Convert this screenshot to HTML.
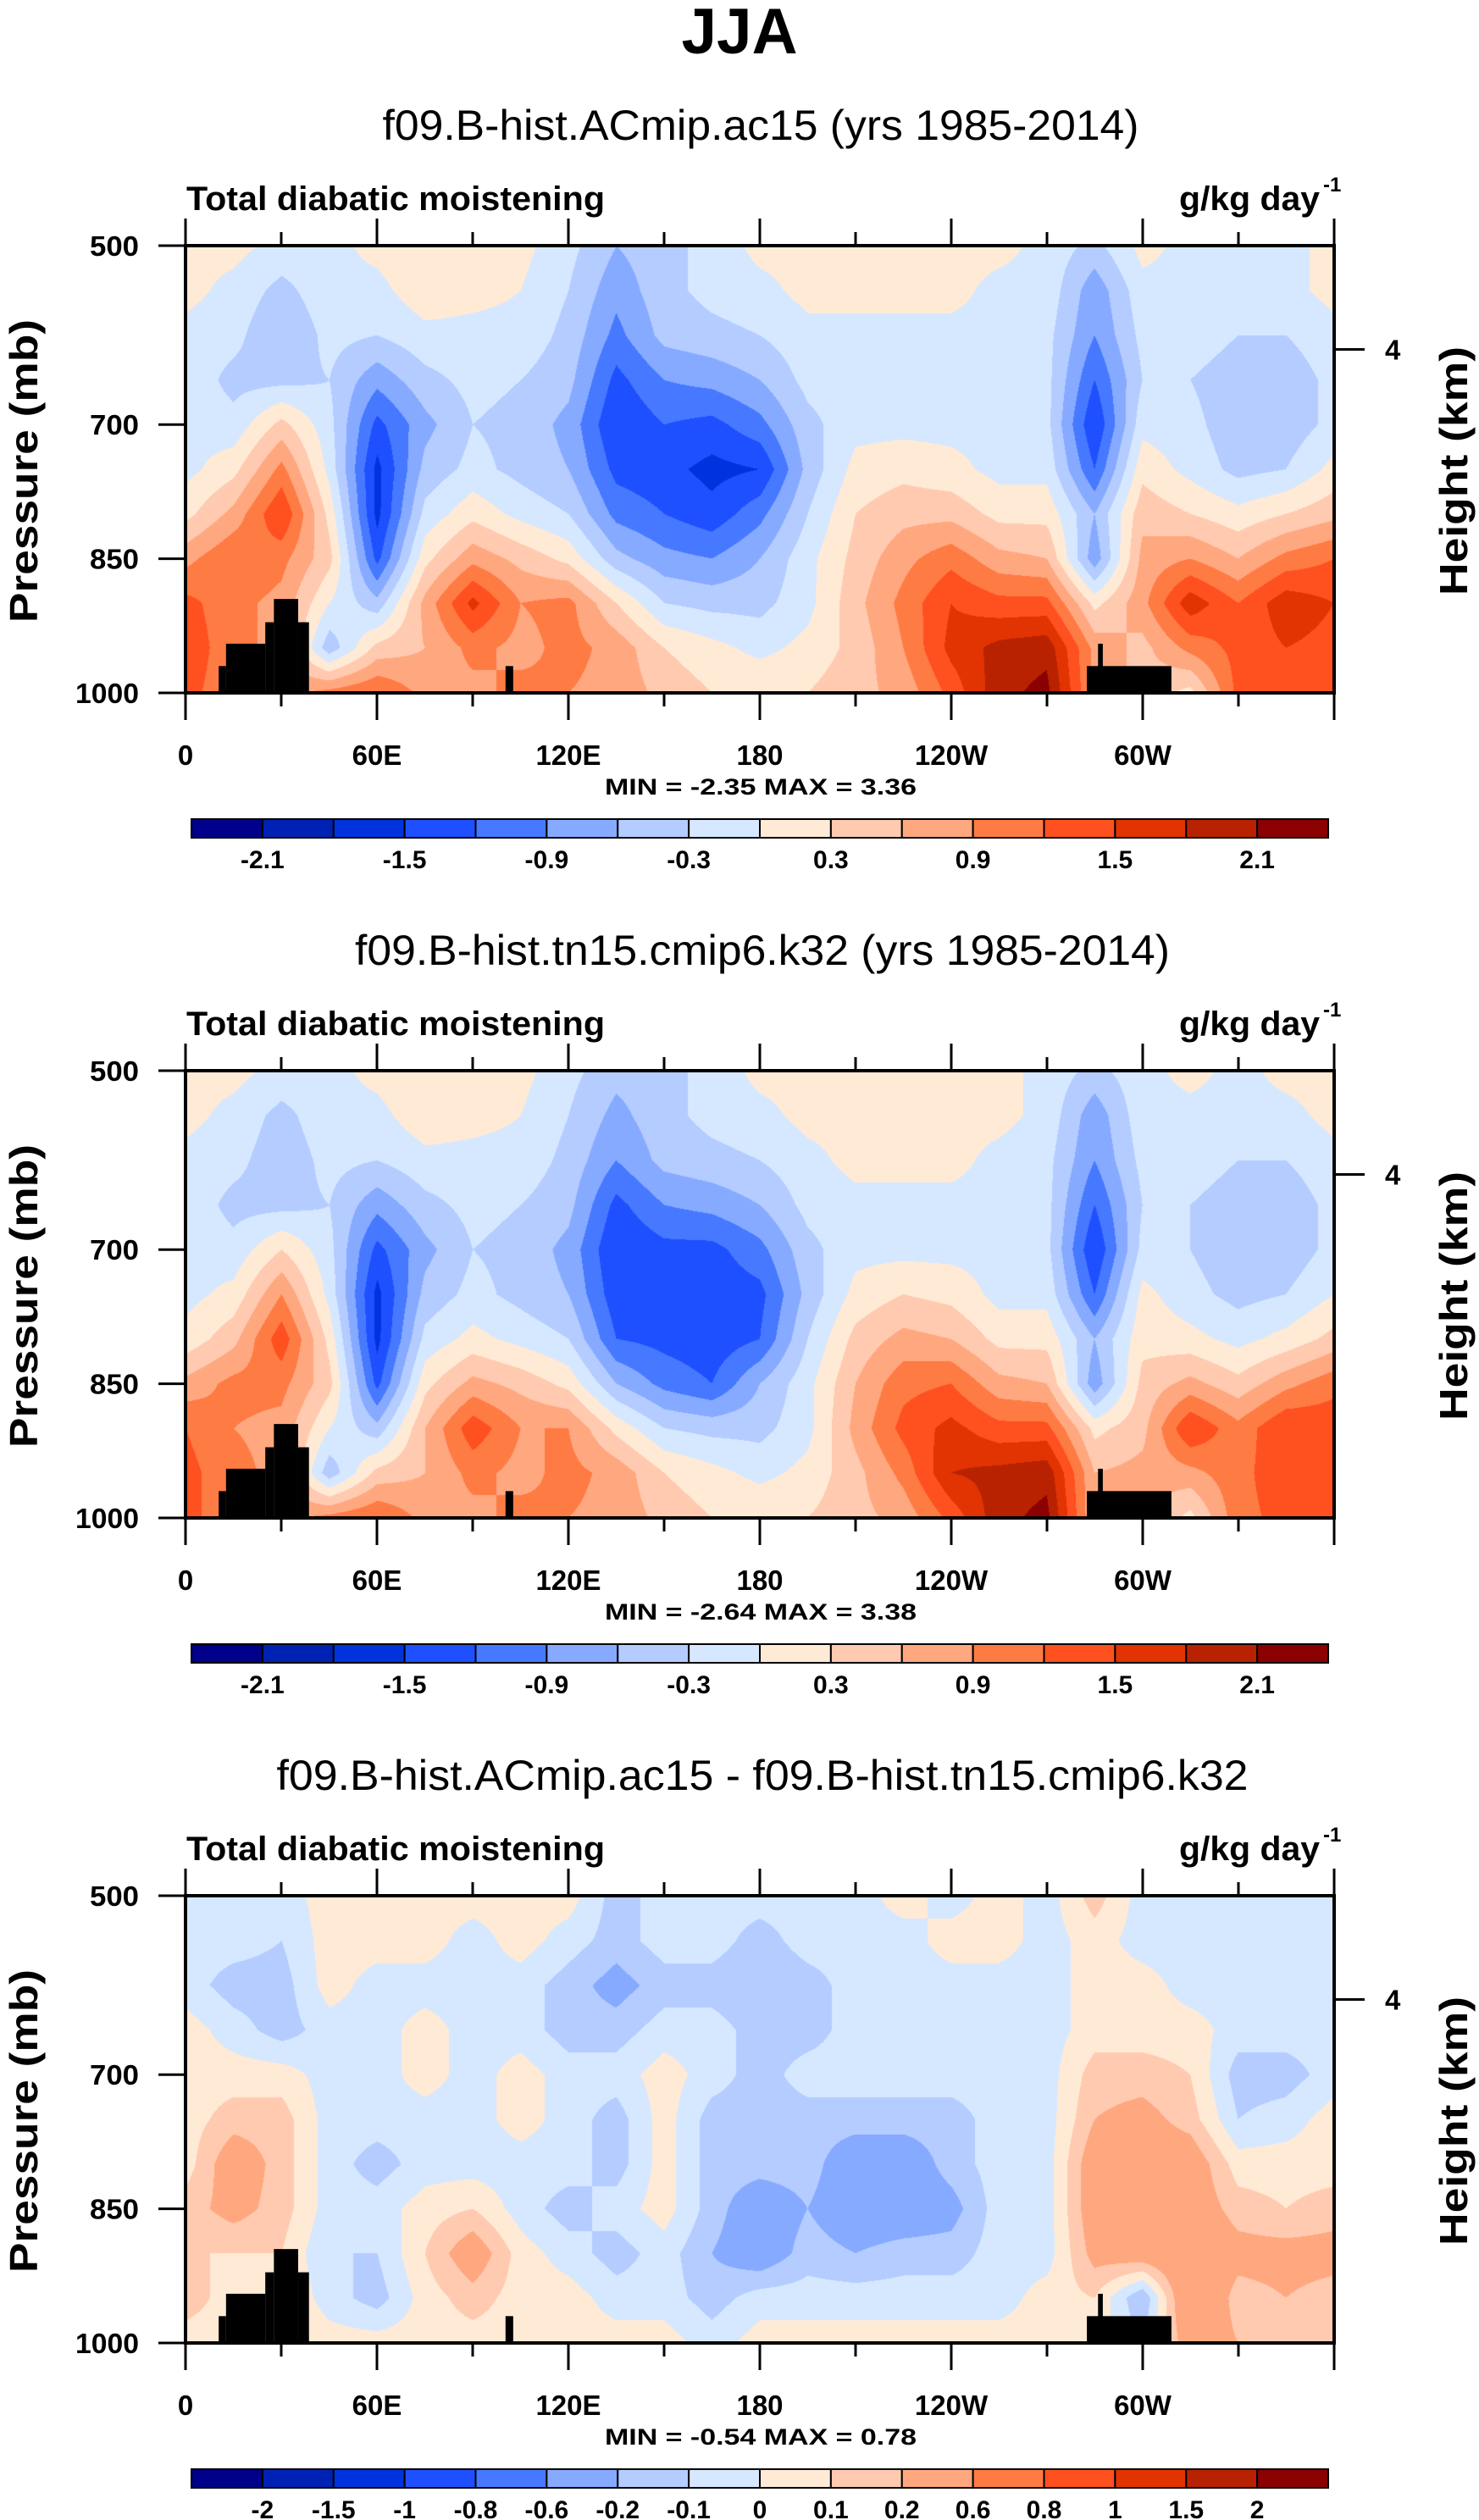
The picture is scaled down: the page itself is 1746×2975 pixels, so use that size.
<!DOCTYPE html>
<html><head><meta charset="utf-8">
<style>
html,body{margin:0;padding:0;background:#fff;}
#wrap{position:relative;width:1746px;height:2975px;overflow:hidden;}
canvas{position:absolute;}
svg{position:absolute;left:0;top:0;}
text{font-family:"Liberation Sans",sans-serif;}
</style></head>
<body>
<div id="wrap">
<canvas id="c0" width="1356" height="528" style="left:219px;top:290px"></canvas>
<canvas id="c1" width="1356" height="528" style="left:219px;top:1264px"></canvas>
<canvas id="c2" width="1356" height="528" style="left:219px;top:2238px"></canvas>
<svg id="ov" width="1746" height="2975">
<text x="873" y="63" font-size="76" font-weight="bold" text-anchor="middle" textLength="137" lengthAdjust="spacingAndGlyphs">JJA</text>
</svg>
</div>
<script>
// ---- data ----
const lons = [0,15,30,45,60,75,90,105,120,135,150,165,180,195,210,225,240,255,270,285,300,315,330,345,360];
const levelsP = [500,550,600,650,700,750,800,850,900,950,1000];
const field1 = [
[0.1,0.1,-0.1,-0.1,-0.1,-0.1,0.2,0.8,1.3,1.4,1.3],
[0.1,-0.1,-0.2,-0.4,-0.2,0.2,0.7,1.2,1.0,1.0,1.0],
[-0.1,-0.4,-0.6,-0.4,0.4,1.0,1.5,1.0,0.8,0.8,0.8],
[-0.1,-0.1,-0.2,-0.3,-0.2,-0.1,0.2,0.4,0.0,-0.5,1.0],
[0.1,-0.1,-0.3,-0.8,-1.3,-1.6,-1.6,-1.3,-0.5,0.4,1.2],
[0.3,0.2,-0.1,-0.4,-0.7,-0.5,-0.2,0.2,0.7,0.6,0.8],
[0.1,0.1,-0.1,-0.2,-0.3,-0.2,0.2,0.8,1.6,1.0,0.8],
[0.1,0.0,-0.1,-0.3,-0.4,-0.4,-0.1,0.5,0.9,0.8,1.0],
[-0.2,-0.3,-0.4,-0.5,-0.7,-0.6,-0.3,0.2,1.0,1.0,0.9],
[-0.6,-0.8,-1.0,-1.3,-1.5,-1.3,-1.0,-0.5,0.3,0.8,0.8],
[-0.4,-0.4,-0.5,-0.9,-1.2,-1.4,-1.2,-0.8,-0.3,0.3,0.5],
[-0.2,-0.2,-0.4,-0.8,-1.3,-1.6,-1.4,-0.9,-0.4,0.1,0.3],
[0.1,-0.1,-0.3,-0.6,-1.0,-1.5,-1.0,-0.6,-0.4,-0.1,0.3],
[0.1,0.1,-0.1,-0.2,-0.4,-0.5,-0.3,-0.1,-0.1,0.1,0.3],
[0.1,0.1,-0.1,-0.1,-0.1,0.1,0.3,0.4,0.5,0.4,0.5],
[0.1,0.1,-0.1,-0.1,-0.1,0.2,0.5,0.8,1.0,0.9,0.7],
[0.1,0.1,-0.1,-0.1,-0.1,0.1,0.5,1.1,1.5,1.6,1.3],
[0.1,-0.1,-0.1,-0.1,-0.1,-0.1,0.2,0.7,1.3,1.9,2.0],
[-0.1,-0.1,-0.2,-0.2,-0.2,-0.1,0.2,0.6,1.3,2.0,2.2],
[-0.4,-0.8,-0.9,-1.2,-1.5,-1.2,-0.6,-0.8,0.2,0.8,0.8],
[0.1,-0.1,-0.2,-0.3,-0.1,0.2,0.5,0.7,0.8,0.5,0.5],
[-0.1,-0.1,-0.1,-0.3,-0.2,-0.1,0.3,0.9,1.7,1.0,0.2],
[-0.1,-0.1,-0.3,-0.5,-0.5,-0.4,0.1,0.6,1.2,1.3,1.3],
[-0.1,-0.1,-0.3,-0.5,-0.5,-0.3,0.3,1.0,1.7,1.5,1.3],
[0.1,0.1,-0.1,-0.2,-0.2,0.1,0.5,1.2,1.5,1.4,1.3]];
const field2 = [
[0.1,0.1,-0.1,-0.1,-0.1,-0.1,0.1,0.7,1.2,1.3,1.3],
[0.1,-0.1,-0.2,-0.4,-0.2,0.1,0.5,1.0,0.9,1.0,1.0],
[-0.1,-0.4,-0.5,-0.4,0.3,0.9,1.4,1.0,0.8,0.8,0.8],
[-0.1,-0.1,-0.2,-0.3,-0.2,-0.1,0.2,0.4,0.0,-0.5,1.0],
[0.1,-0.1,-0.3,-0.8,-1.3,-1.6,-1.6,-1.3,-0.5,0.4,1.2],
[0.3,0.2,-0.1,-0.4,-0.7,-0.5,-0.2,0.2,0.6,0.6,0.8],
[0.1,0.1,-0.1,-0.2,-0.3,-0.2,0.1,0.7,1.4,1.0,0.8],
[0.1,0.0,-0.1,-0.3,-0.4,-0.4,-0.1,0.5,0.9,0.8,1.0],
[-0.2,-0.3,-0.4,-0.5,-0.7,-0.6,-0.3,0.2,0.9,1.0,0.9],
[-0.5,-0.7,-0.9,-1.3,-1.5,-1.4,-1.2,-0.6,0.2,0.8,0.8],
[-0.4,-0.4,-0.5,-0.9,-1.3,-1.4,-1.3,-1.0,-0.3,0.3,0.5],
[-0.2,-0.2,-0.4,-0.8,-1.3,-1.4,-1.4,-1.2,-0.4,0.1,0.3],
[0.1,-0.1,-0.3,-0.6,-1.0,-1.3,-1.2,-0.6,-0.4,-0.1,0.3],
[0.1,0.1,-0.1,-0.2,-0.4,-0.5,-0.3,-0.1,-0.1,0.1,0.3],
[0.1,0.1,0.1,-0.1,-0.1,0.1,0.4,0.6,0.7,0.5,0.5],
[0.1,0.1,0.1,-0.1,-0.1,0.3,0.7,1.1,1.3,1.0,0.7],
[0.1,0.1,0.1,-0.1,-0.1,0.2,0.6,1.2,1.6,1.8,1.3],
[0.1,0.1,-0.1,-0.1,-0.1,-0.1,0.2,0.7,1.3,1.9,2.0],
[-0.1,-0.1,-0.2,-0.2,-0.2,-0.1,0.2,0.6,1.3,2.0,2.2],
[-0.4,-0.8,-0.9,-1.2,-1.5,-1.2,-0.6,-0.8,0.2,0.6,0.6],
[-0.1,-0.1,-0.2,-0.3,-0.2,0.1,0.2,0.4,0.5,0.7,0.7],
[0.1,-0.1,-0.1,-0.3,-0.3,-0.2,0.1,0.7,1.5,0.8,0.2],
[-0.1,-0.1,-0.3,-0.5,-0.5,-0.4,-0.1,0.4,1.0,1.1,1.1],
[0.1,-0.1,-0.3,-0.5,-0.5,-0.3,0.1,0.8,1.5,1.4,1.3],
[0.1,0.1,-0.1,-0.2,-0.2,0.0,0.4,1.1,1.4,1.3,1.3]];
const field3 = [
[-0.05,-0.05,-0.05,0.05,0.05,0.05,0.05,0.15,0.1,0.15,0.05],
[-0.05,-0.05,-0.15,-0.05,0.05,0.15,0.3,0.25,0.1,0.05,0.05],
[-0.05,-0.1,-0.15,-0.15,0.05,0.15,0.15,0.15,0.1,0.1,0.1],
[0.05,0.05,0.05,-0.05,-0.05,-0.05,-0.05,-0.05,-0.1,-0.05,0.05],
[0.05,0.05,-0.05,-0.05,-0.05,-0.05,-0.15,-0.05,-0.1,-0.15,0.05],
[0.05,0.05,-0.05,0.05,0.05,-0.05,-0.05,0.05,0.1,0.05,0.05],
[0.05,-0.05,-0.05,-0.05,-0.05,-0.05,-0.05,0.1,0.3,0.15,0.05],
[0.05,0.05,-0.05,-0.05,0.05,0.05,-0.05,-0.05,0.05,0.05,0.05],
[0.05,-0.05,-0.15,-0.15,-0.05,-0.05,-0.05,-0.15,-0.05,0.05,0.05],
[-0.15,-0.15,-0.25,-0.15,-0.05,-0.15,-0.15,-0.05,-0.15,-0.05,0.05],
[-0.05,-0.05,-0.15,-0.05,0.05,0.05,0.05,0.05,-0.05,-0.05,0.05],
[-0.05,-0.05,-0.15,-0.05,-0.05,-0.15,-0.15,-0.15,-0.2,-0.15,-0.05],
[-0.05,-0.15,-0.2,-0.15,-0.15,-0.15,-0.15,-0.3,-0.3,-0.05,0.05],
[-0.05,-0.05,-0.15,-0.15,-0.05,-0.15,-0.15,-0.2,-0.15,-0.05,0.05],
[-0.05,-0.05,-0.05,-0.05,-0.05,-0.15,-0.3,-0.3,-0.2,-0.05,0.05],
[0.05,-0.05,-0.05,-0.05,-0.05,-0.15,-0.3,-0.3,-0.15,-0.05,0.05],
[-0.05,0.05,-0.05,-0.05,-0.05,-0.15,-0.15,-0.25,-0.15,-0.05,0.05],
[0.05,0.05,-0.05,-0.05,-0.05,-0.05,-0.05,-0.05,-0.05,-0.05,0.05],
[-0.05,-0.05,-0.05,-0.05,-0.05,-0.05,-0.05,-0.05,-0.05,0.05,0.05],
[0.15,0.05,0.05,0.05,0.15,0.2,0.3,0.3,0.25,0.1,0.05],
[-0.05,-0.05,0.05,0.05,0.15,0.25,0.3,0.3,0.3,-0.2,-0.1],
[-0.05,-0.05,-0.05,0.05,0.1,0.15,0.3,0.3,0.35,0.4,0.3],
[-0.05,-0.05,-0.05,-0.05,-0.15,-0.1,0.05,0.15,0.25,0.15,0.2],
[-0.05,-0.05,-0.05,-0.05,-0.15,-0.05,0.05,0.1,0.25,0.2,0.15],
[-0.05,-0.05,-0.05,-0.05,-0.05,0.05,0.05,0.15,0.25,0.15,0.15]];
const levels12 = [-2.1,-1.8,-1.5,-1.2,-0.9,-0.6,-0.3,0,0.3,0.6,0.9,1.2,1.5,1.8,2.1];
const labels12 = ["-2.1","","-1.5","","-0.9","","-0.3","","0.3","","0.9","","1.5","","2.1"];
const levels3 = [-2,-1.5,-1,-0.8,-0.6,-0.2,-0.1,0,0.1,0.2,0.6,0.8,1,1.5,2];
const labels3 = ["-2","-1.5","-1","-0.8","-0.6","-0.2","-0.1","0","0.1","0.2","0.6","0.8","1","1.5","2"];
const topoLonStart = [10.4,12.7,25,27.7,35.3,100.3,282.5,286];
const topoLonEnd   = [12.7,25,27.7,35.3,38.7,102.7,309,287.5];
const topoPres     = [970,945,921,895,921,970,970,945];
const xTickLons = [0,60,120,180,240,300];
const xTickLabels = ["0","60E","120E","180","120W","60W"];
const yTicks = [500,700,850,1000];
const subtitles = ["f09.B-hist.ACmip.ac15 (yrs 1985-2014)","f09.B-hist.tn15.cmip6.k32 (yrs 1985-2014)","f09.B-hist.ACmip.ac15 - f09.B-hist.tn15.cmip6.k32"];
const minVals = ["-2.35","-2.64","-0.54"];
const maxVals = ["3.36","3.38","0.78"];
const palette = ["#00008a","#0022b4","#0033dd","#1e50ff","#4679ff","#86aaff","#b4ccff","#d6e8ff","#ffead6","#ffcaaf","#ffa880","#ff7b44","#ff5020","#e23302","#b82200","#8b0000"];

// ---- geometry ----
const PL=219, PW=1356, PH=528, PT0=290, DY=974;
const subX=[898,900,900], subLen=[893,962,1147];
function xs(lon){return PL+lon/360*PW;}
function ys(p,k){return PT0+k*DY+(p-500)/500*PH;}

function drawField(id,field,levels){
  const cv=document.getElementById(id), ctx=cv.getContext('2d');
  const img=ctx.createImageData(PW,PH), d=img.data;
  const rgb=palette.map(h=>[parseInt(h.substr(1,2),16),parseInt(h.substr(3,2),16),parseInt(h.substr(5,2),16)]);
  const nc=lons.length-1, nr=levelsP.length-1;
  for(let y=0;y<PH;y++){
    const fj=y/(PH-1)*nr, j=Math.min(nr-1,Math.floor(fj)), ty=fj-j;
    for(let x=0;x<PW;x++){
      const fi=x/(PW-1)*nc, i=Math.min(nc-1,Math.floor(fi)), tx=fi-i;
      const v=(field[i][j]*(1-tx)+field[i+1][j]*tx)*(1-ty)+(field[i][j+1]*(1-tx)+field[i+1][j+1]*tx)*ty;
      let c=0; while(c<levels.length && v>=levels[c]) c++;
      const o=(y*PW+x)*4; d[o]=rgb[c][0]; d[o+1]=rgb[c][1]; d[o+2]=rgb[c][2]; d[o+3]=255;
    }
  }
  ctx.putImageData(img,0,0);
}
drawField('c0',field1,levels12);
drawField('c1',field2,levels12);
drawField('c2',field3,levels3);

const NS='http://www.w3.org/2000/svg', svg=document.getElementById('ov');
function mk(tag,attrs,parent){const e=document.createElementNS(NS,tag);for(const k in attrs)e.setAttribute(k,attrs[k]);(parent||svg).appendChild(e);return e;}

for(let k=0;k<3;k++){
  const g=mk('g',{});
  
  
  const top=ys(500,k), bot=ys(1000,k);
  const st=mk('text',{x:subX[k],y:top-125,'font-size':50,'text-anchor':'middle',textLength:subLen[k],lengthAdjust:'spacingAndGlyphs'},g);
  st.textContent=subtitles[k];
  
  
  const lt=mk('text',{x:220,y:top-42,'font-size':40,'font-weight':'bold',textLength:494,lengthAdjust:'spacingAndGlyphs'},g);
  lt.textContent='Total diabatic moistening';
  
  
  const ut=mk('text',{x:1392,y:top-42,'font-size':40,'font-weight':'bold',textLength:166,lengthAdjust:'spacingAndGlyphs'},g);
  ut.textContent='g/kg day';
  
  
  const us=mk('text',{x:1562,y:top-64,'font-size':24,'font-weight':'bold'},g);
  us.textContent='-1';
  
  
  // topography
  for(let t=0;t<topoPres.length;t++){
    const r=mk('rect',{x:xs(topoLonStart[t]),y:ys(topoPres[t],k),width:xs(topoLonEnd[t])-xs(topoLonStart[t]),height:bot-ys(topoPres[t],k),fill:'#000'},g);
    
    
  }
  // frame
  const fr=mk('rect',{x:PL,y:top,width:PW,height:PH,fill:'none',stroke:'#000','stroke-width':4},g);
  
  
  // x ticks
  for(let lon=0;lon<=360;lon+=30){
    const major=lon%60===0, L=major?32:16;
    mk('line',{x1:xs(lon),x2:xs(lon),y1:top,y2:top-L,stroke:'#000','stroke-width':3},g);
    mk('line',{x1:xs(lon),x2:xs(lon),y1:bot,y2:bot+L,stroke:'#000','stroke-width':3},g);
  }
  for(let i=0;i<xTickLons.length;i++){
    const t=mk('text',{x:xs(xTickLons[i]),y:bot+85,'font-size':33,'font-weight':'bold','text-anchor':'middle'},g);
    t.textContent=xTickLabels[i];
    
    
  }
  // y ticks
  for(const p of yTicks){
    mk('line',{x1:PL,x2:PL-32,y1:ys(p,k),y2:ys(p,k),stroke:'#000','stroke-width':3},g);
    const t=mk('text',{x:164,y:ys(p,k)+12,'font-size':33,'font-weight':'bold','text-anchor':'end',textLength:(p===1000?75:58),lengthAdjust:'spacingAndGlyphs'},g);
    t.textContent=String(p);
    
    
  }
  const yt=mk('text',{x:0,y:0,'font-size':46,'font-weight':'bold','text-anchor':'middle',transform:`translate(44,${top+266}) rotate(-90)`,textLength:358,lengthAdjust:'spacingAndGlyphs'},g);
  yt.textContent='Pressure (mb)';
  
  
  // height axis
  const hy=ys(616,k);
  mk('line',{x1:PL+PW,x2:PL+PW+36,y1:hy,y2:hy,stroke:'#000','stroke-width':3},g);
  const h4=mk('text',{x:1635,y:hy+12,'font-size':33,'font-weight':'bold'},g);
  h4.textContent='4';
  
  
  const ht=mk('text',{x:0,y:0,'font-size':46,'font-weight':'bold','text-anchor':'middle',transform:`translate(1732,${top+266}) rotate(-90)`,textLength:294,lengthAdjust:'spacingAndGlyphs'},g);
  ht.textContent='Height (km)';
  
  
  // min/max
  const mm=mk('text',{x:898,y:bot+120,'font-size':27,'font-weight':'bold','text-anchor':'middle','xml:space':'preserve',textLength:368,lengthAdjust:'spacingAndGlyphs'},g);
  mm.textContent='MIN = '+minVals[k]+'  MAX =  '+maxVals[k];
  
  
  // colorbar
  const cbT=967+k*DY, cbL=226, cbR=1568, cbW=(cbR-cbL)/16;
  const levs=k<2?levels12:levels3, labs=k<2?labels12:labels3;
  for(let c=0;c<16;c++){
    const r=mk('rect',{x:cbL+c*cbW,y:cbT,width:cbW,height:22,fill:palette[c],stroke:'#000','stroke-width':2},g);
    
    
  }
  for(let b=0;b<levs.length;b++){
    if(!labs[b]) continue;
    const t=mk('text',{x:cbL+(b+1)*cbW,y:cbT+58,'font-size':30,'font-weight':'bold','text-anchor':'middle'},g);
    t.textContent=labs[b];
    
    
  }
}
</script>
</body></html>
